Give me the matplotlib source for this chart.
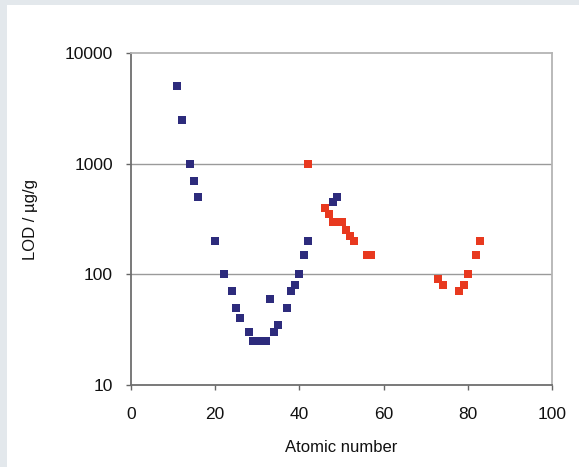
import matplotlib.pyplot as plt
from matplotlib.patches import Rectangle

# データ
blue_z = [11, 12, 14, 15, 16, 20, 22, 24, 25, 26, 28, 29, 30, 31, 32, 33, 34, 35, 37, 38, 39, 40, 41, 42, 48, 49]
blue_lod = [5000, 2500, 1000, 700, 500, 200, 100, 70, 50, 40, 30, 25, 25, 25, 25, 60, 30, 35, 50, 70, 80, 100, 150, 200, 450, 500]

red_z = [42, 46, 47, 48, 49, 50, 51, 52, 53, 56, 57, 73, 74, 78, 79, 80, 82, 83]
red_lod = [1000, 400, 350, 300, 300, 300, 250, 220, 200, 150, 150, 90, 80, 70, 80, 100, 150, 200]

x_ticks = [0, 20, 40, 60, 80, 100]
y_ticks = [10, 100, 1000, 10000]

plt.rcParams['font.family'] = ['Liberation Sans', 'DejaVu Sans']

fig = plt.figure(figsize=(5.79, 4.67), dpi=100, facecolor='#e3e8ec')
# 白い内側パネル
fig.patches.append(Rectangle((7 / 579, 0), 1, 1 - 5 / 467, transform=fig.transFigure,
                             facecolor='white', edgecolor='none', zorder=-10))

ax = fig.add_axes([131 / 579, 1 - 385 / 467, (552 - 131) / 579, (385 - 53) / 467])
ax.set_facecolor('none')

ax.set_yscale('log')
ax.set_xlim(0, 100)
ax.set_ylim(10, 10000)

for y in [100, 1000]:
    ax.axhline(y, color='#9a9a9a', linewidth=1.0, zorder=1)

ax.plot(blue_z, blue_lod, linestyle='none', marker='s', markersize=6.3,
        color='#2d2b7c', markeredgewidth=0, zorder=3)
ax.plot(red_z, red_lod, linestyle='none', marker='s', markersize=6.3,
        color='#e8391f', markeredgewidth=0, zorder=3)

ax.set_xticks(x_ticks)
ax.set_xticklabels([str(t) for t in x_ticks])
ax.set_yticks(y_ticks)
ax.set_yticklabels([str(t) for t in y_ticks])
ax.minorticks_off()
ax.tick_params(axis='both', direction='out', length=3.6, width=1, color='#666666',
               labelsize=12.5, labelcolor='#111111')
ax.tick_params(axis='x', pad=12.5)
ax.tick_params(axis='y', pad=9.5)

ax.spines['left'].set_color('#6e6e6e')
ax.spines['bottom'].set_color('#6e6e6e')
ax.spines['top'].set_color('#b4b4b4')
ax.spines['right'].set_color('#b4b4b4')
for s in ax.spines.values():
    s.set_linewidth(1.3)

ax.set_xlabel('Atomic number', fontsize=12, color='#111111', labelpad=13)
ax.set_ylabel('LOD / µg/g', fontsize=12, color='#111111', labelpad=19)

fig.savefig('out.png', dpi=100)
plt.close()
